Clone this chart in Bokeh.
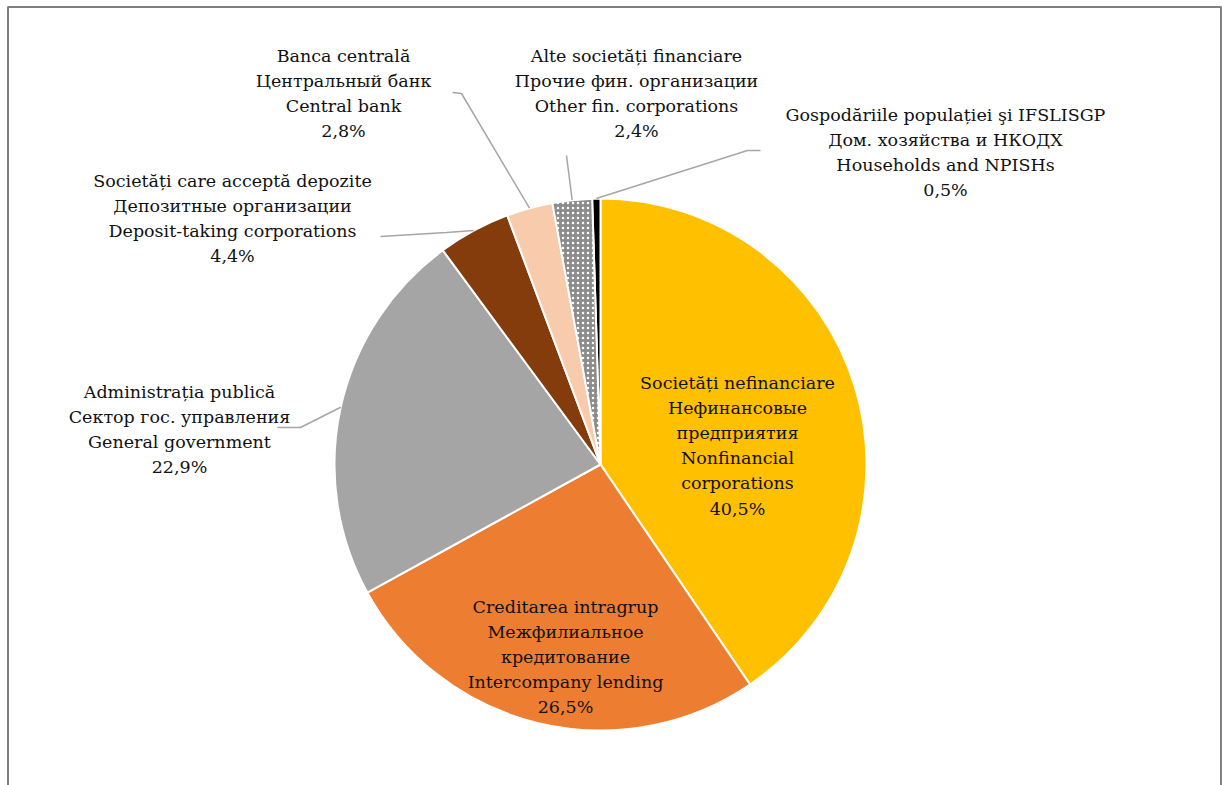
import math
from bokeh.plotting import figure
from bokeh.models import Range1d, ColumnDataSource
from bokeh.core.properties import value
from bokeh.embed import file_html
from bokeh.resources import INLINE

# ---------------- data ----------------
sectors_ro = ["Societăți nefinanciare", "Creditarea intragrup", "Administrația publică",
              "Societăți care acceptă depozite", "Banca centrală", "Alte societăți financiare",
              "Gospodăriile populației şi IFSLISGP"]
sectors_ru = ["Нефинансовые предприятия", "Межфилиальное кредитование", "Сектор гос. управления",
              "Депозитные организации", "Центральный банк", "Прочие фин. организации",
              "Дом. хозяйства и НКОДХ"]
sectors_en = ["Nonfinancial corporations", "Intercompany lending", "General government",
              "Deposit-taking corporations", "Central bank", "Other fin. corporations",
              "Households and NPISHs"]
shares = [40.5, 26.5, 22.9, 4.4, 2.8, 2.4, 0.5]

# ---------------- style / layout ----------------
colors = ["#FFC000", "#ED7D31", "#A5A5A5", "#843C0C", "#F8CBAD", "#8C8C8C", "#000000"]
W, H = 1222, 785
OX, OY = 0, 0  # page offset of the figure
FONT = "DejaVu Serif"
FS = "17.5px"
STEP = 25.2


def dx(px):
    return px - OX


def dy(py):
    return H - (py - OY)


cx, cy, R = dx(600), dy(464), 266

# label block centre x and first-line y (page pixels)
label_pos = [(737, 382), (565, 606), (179, 391), (232, 180), (343, 55), (636, 55), (945, 114)]
split_lines = {0: [1, 2], 1: [1]}
leaders = {2: [(277, 427), (300, 427)], 3: [(380, 236), (446, 232)],
           4: [(452, 92), (461, 93)], 5: [(566, 155)], 6: [(760, 150), (747, 150)]}

p = figure(width=W, height=H, x_range=Range1d(0, W), y_range=Range1d(0, H),
           output_backend="svg", toolbar_location=None, min_border=0,
           outline_line_color=None, background_fill_color="white",
           border_fill_color="white")
p.axis.visible = False
p.grid.visible = False

# frame border (left, top, right)
p.line([dx(7.5), dx(7.5), dx(1220.5), dx(1220.5)], [dy(790), dy(6.5), dy(6.5), dy(790)],
       line_color="#808080", line_width=2)

total = sum(shares)
starts, ends, mids = [], [], []
cum = 0.0
for v in shares:
    a0 = math.pi / 2 - 2 * math.pi * cum / total
    cum += v
    a1 = math.pi / 2 - 2 * math.pi * cum / total
    starts.append(a0)
    ends.append(a1)
    mids.append((a0 + a1) / 2)

solid = [i for i in range(len(shares)) if i != 5]
src = ColumnDataSource(dict(start=[starts[i] for i in solid], end=[ends[i] for i in solid],
                            color=[colors[i] for i in solid]))
p.wedge(x=cx, y=cy, radius=R, start_angle="start", end_angle="end", direction="clock",
        fill_color="color", line_color="white", line_width=2, source=src)
p.wedge(x=cx, y=cy, radius=R, start_angle=starts[5], end_angle=ends[5], direction="clock",
        fill_color=colors[5], hatch_pattern="dot", hatch_color="white", hatch_scale=5,
        hatch_weight=2.5, line_color="white", line_width=2)

# leader lines
for i, pts in leaders.items():
    xs = [dx(a) for a, b in pts] + [cx + R * math.cos(mids[i])]
    ys = [dy(b) for a, b in pts] + [cy + R * math.sin(mids[i])]
    p.line(xs, ys, line_color="#A6A6A6", line_width=1.5)

# labels
tx, ty, tt = [], [], []
for i in range(len(shares)):
    lines = [sectors_ro[i], sectors_ru[i], sectors_en[i],
             f"{shares[i]:.1f}%".replace(".", ",")]
    out = []
    for k, ln in enumerate(lines):
        if k in split_lines.get(i, []):
            out.extend(ln.split(" ", 1))
        else:
            out.append(ln)
    x0, y0 = label_pos[i]
    for k, ln in enumerate(out):
        tx.append(dx(x0))
        ty.append(dy(y0 + k * STEP))
        tt.append(ln)

p.text(x=tx, y=ty, text=tt, text_font=value(FONT), text_font_size=FS,
       text_align="center", text_baseline="middle", text_color="#111111")

open("out.html", "w").write(file_html(p, INLINE))
